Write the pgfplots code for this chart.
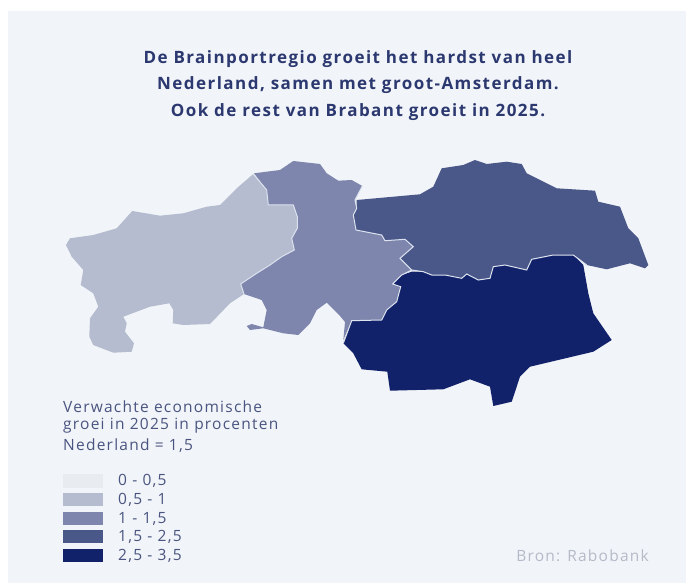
\documentclass[border=0pt]{standalone}
\usepackage{pgfplots}
\pgfplotsset{compat=1.18}
\usepackage{fontspec}
\setmainfont{Open Sans}
\newfontfamily\ls[LetterSpace=8]{Open Sans}
\newfontfamily\lt[LetterSpace=8.5]{Open Sans}
\definecolor{bgc}{HTML}{F1F4F8}
\definecolor{c0}{HTML}{E8EBEF}
\definecolor{c1}{HTML}{B5BCCF}
\definecolor{c2}{HTML}{7E86AD}
\definecolor{c3}{HTML}{4A5789}
\definecolor{c4}{HTML}{12226A}
\definecolor{bord}{HTML}{DCE3EE}
\definecolor{ttl}{HTML}{2C3870}
\definecolor{txt}{HTML}{4A5480}
\definecolor{src}{HTML}{B4BAC8}
\begin{document}
\begin{tikzpicture}
\begin{axis}[
  scale only axis, width=686pt, height=583pt,
  xmin=0, xmax=686, ymin=0, ymax=583, y dir=reverse,
  hide axis, clip=false,
]
% page and panel
\addplot[fill=white, draw=none] coordinates {(0,0) (686,0) (686,583) (0,583)} --cycle;
\addplot[fill=bgc, draw=none] coordinates {(8,11) (686,11) (686,583) (8,583)} --cycle;
% West Brabant
\addplot[fill=c1, draw=none] coordinates {
(253.3,174)(266.7,190)(268.3,205)(293.3,205)(297.3,216.7)(297.3,228.3)(291.7,238.3)(294.3,250)(281.7,256.7)(270,265)(256.7,273.3)(240.7,284)(244,294)(230,303.3)(210,324)(183.3,325)(172.7,323.3)(173.3,310)(169.3,303.3)(150,306.7)(123.3,316.7)(126.7,323.3)(125,331.7)(134,343.3)(131.7,351.7)(113.3,352.7)(93.3,345)(89.3,336.7)(90,318.3)(98.3,306.7)(93.3,293.3)(80.7,285)(83.3,270)(71.7,256.7)(66,245)(70,238.3)(93.3,235)(116.7,228.3)(132.3,211)(160,215.7)(183.3,213.3)(206.7,206.7)(220,205)(236.7,188.3)
} --cycle;
% Midden Brabant
\addplot[fill=c2, draw=none] coordinates {
(254,173.3)(280,170)(293.3,161)(320,164)(326.7,173.3)(338.3,180.7)(351.7,180)(362.3,186)(355,200)(356.7,208.3)(353.3,215)(356,230)(381.7,235)(385,240.7)(405,239.3)(413.3,246.7)(400,258.3)(411.7,270)(401.7,275)(392.7,284)(400.7,286.7)(396.7,301.7)(386.7,310)(381.7,320)(351.7,320.7)(343.3,340)(345,322)(340,316)(326.7,302.7)(316.7,310)(310,323.3)(298.3,335)(283.3,333.3)(263.3,328.3)(250,330)(246.7,326)(251.7,324)(263.3,327.3)(266.7,310)(261.7,300)(244,294)(240.7,284)(256.7,273.3)(270,265)(281.7,256.7)(294.3,250)(291.7,238.3)(297.3,228.3)(297.3,216.7)(293.3,205)(268.3,205)(266.7,190)
} --cycle;
% Noordoost
\addplot[fill=c3, draw=none] coordinates {
(356.7,200)(420,194.3)(433.3,186.7)(441.7,168.3)(463.3,165)(475,160)(486.7,164)(506.7,161.7)(521.7,164)(526.7,173.3)(556.7,188.3)(595,190.7)(598.3,201.7)(620,206.7)(628.3,228.3)(638.3,238.3)(648.3,265)(645,268.3)(630,263.3)(606.7,269.3)(586.7,265)(573.3,255)(553.3,255)(531.7,259.3)(526.7,270)(505,265)(493.3,266.7)(490,278.3)(478.3,280)(466.7,274)(461.7,278.3)(445,275)(431.7,275)(423.3,271.7)(411.7,270)(400,258.3)(413.3,246.7)(405,239.3)(385,240.7)(381.7,235)(356,230)(353.3,215)(356.7,208.3)
} --cycle;
% Zuidoost
\addplot[fill=c4, draw=none] coordinates {
(411.7,271.7)(423.3,271.7)(431.7,275)(445,275)(461.7,278.3)(466.7,274)(478.3,280)(490,278.3)(493.3,266.7)(505,265)(526.7,270)(531.7,259.3)(553.3,255)(573.3,255)(583.3,265)(588.3,293.3)(593.3,313.3)(611.7,340)(593.3,351.7)(530,366.7)(520,376.7)(511.7,401.7)(493.3,406)(490,386.7)(470,379.3)(443.3,389.3)(390,390.7)(387.3,371.7)(361.7,369.3)(353.3,353.3)(343.3,343.3)(351.7,320.7)(381.7,320)(386.7,310)(396.7,301.7)(400.7,286.7)(392.7,284)(401.7,275)
} --cycle;
% internal borders
\addplot[bord, line width=1pt] coordinates {(253.3,174)(266.7,190)(268.3,205)(293.3,205)(297.3,216.7)(297.3,228.3)(291.7,238.3)(294.3,250)(281.7,256.7)(270,265)(256.7,273.3)(240.7,284)(244,294)};
\addplot[bord, line width=1pt] coordinates {(362.3,186)(355,200)(356.7,208.3)(353.3,215)(356,230)(381.7,235)(385,240.7)(405,239.3)(413.3,246.7)(400,258.3)(411.7,270)};
\addplot[bord, line width=1pt] coordinates {(343.3,343.3)(351.7,320.7)(381.7,320)(386.7,310)(396.7,301.7)(400.7,286.7)(392.7,284)(401.7,275)(411.7,270)(423.3,271.7)(431.7,275)(445,275)(461.7,278.3)(466.7,274)(478.3,280)(490,278.3)(493.3,266.7)(505,265)(526.7,270)(531.7,259.3)(553.3,255)(573.3,255)(586.7,265)};
% legend swatches
\addplot[fill=c0, draw=none] coordinates {(63,474)(103,474)(103,488)(63,488)} --cycle;
\addplot[fill=c1, draw=none] coordinates {(63,493)(103,493)(103,506)(63,506)} --cycle;
\addplot[fill=c2, draw=none] coordinates {(63,512)(103,512)(103,525)(63,525)} --cycle;
\addplot[fill=c3, draw=none] coordinates {(63,530)(103,530)(103,543)(63,543)} --cycle;
\addplot[fill=c4, draw=none] coordinates {(63,549)(103,549)(103,562)(63,562)} --cycle;
% title
\node[text=ttl, font=\lt\bfseries\fontsize{17}{17}\selectfont, anchor=center] at (axis cs:358,59) {De Brainportregio groeit het hardst van heel};
\node[text=ttl, font=\lt\bfseries\fontsize{17}{17}\selectfont, anchor=center] at (axis cs:358,85.5) {Nederland, samen met groot-Amsterdam.};
\node[text=ttl, font=\lt\bfseries\fontsize{17}{17}\selectfont, anchor=center] at (axis cs:358,112) {Ook de rest van Brabant groeit in 2025.};
% legend text
\node[text=txt, font=\ls\fontsize{15.5}{15.5}\selectfont, anchor=west, inner sep=0pt] at (axis cs:63,406.5) {Verwachte economische};
\node[text=txt, font=\ls\fontsize{15.5}{15.5}\selectfont, anchor=west, inner sep=0pt] at (axis cs:63,426) {groei in 2025 in procenten};
\node[text=txt, font=\ls\fontsize{15.5}{15.5}\selectfont, anchor=west, inner sep=0pt] at (axis cs:63,445.5) {Nederland = 1,5};
\node[text=txt, font=\ls\fontsize{15.5}{15.5}\selectfont, anchor=west, inner sep=0pt] at (axis cs:118,481) {0 - 0,5};
\node[text=txt, font=\ls\fontsize{15.5}{15.5}\selectfont, anchor=west, inner sep=0pt] at (axis cs:118,499.5) {0,5 - 1};
\node[text=txt, font=\ls\fontsize{15.5}{15.5}\selectfont, anchor=west, inner sep=0pt] at (axis cs:118,518.5) {1 - 1,5};
\node[text=txt, font=\ls\fontsize{15.5}{15.5}\selectfont, anchor=west, inner sep=0pt] at (axis cs:118,537) {1,5 - 2,5};
\node[text=txt, font=\ls\fontsize{15.5}{15.5}\selectfont, anchor=west, inner sep=0pt] at (axis cs:118,556) {2,5 - 3,5};
\node[text=src, font=\ls\fontsize{15.5}{15.5}\selectfont, anchor=east, inner sep=0pt] at (axis cs:649,556) {Bron: Rabobank};
\end{axis}
\end{tikzpicture}
\end{document}
